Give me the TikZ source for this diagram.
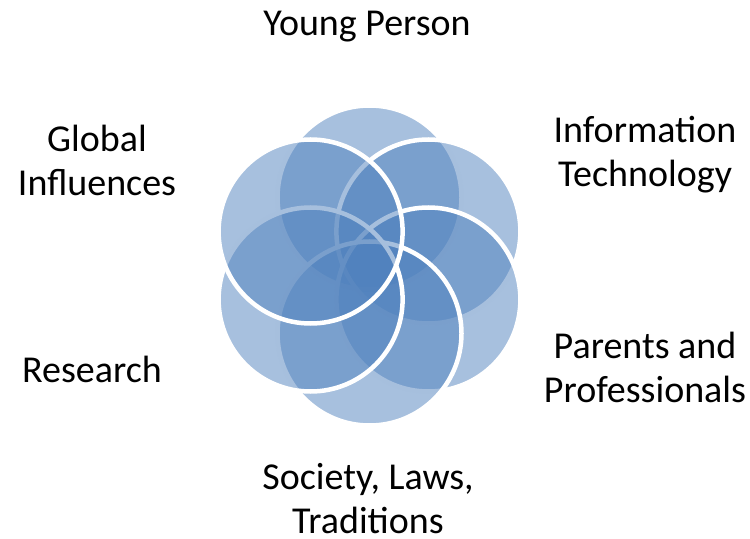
\documentclass[tikz,border=0pt]{standalone}
\usepackage{fontspec}
\setmainfont{Carlito}
\definecolor{petalblue}{HTML}{4F81BD}
\begin{document}
\begin{tikzpicture}[x=1bp, y=-1bp,
  petal/.style={circle, minimum size=184bp, inner sep=0pt, outer sep=0pt,
    fill=petalblue, fill opacity=0.5, draw=white, draw opacity=1, line width=4.5bp},
  caption/.style={font=\fontsize{38bp}{44bp}\selectfont, align=center,
    inner sep=0pt, anchor=base, text=black}]
\useasboundingbox (0,0) rectangle (750,539);
% six overlapping petals, drawn clockwise from the top; each later one
% veils the white rims of the earlier ones
\node[petal] (young)    at (369.5,197.5) {};
\node[petal] (tech)     at (428.4,231.5) {};
\node[petal] (parents)  at (428.4,299.5) {};
\node[petal] (society)  at (369.5,333.5) {};
\node[petal] (research) at (310.6,299.5) {};
\node[petal] (global)   at (310.6,231.5) {};
% captions (the base anchor of a two-line caption sits on its last line)
\node[caption] (lyoung)    at (367,36)  {Young Person};
\node[caption] (ltech)     at (645,187) {Information\\Technology};
\node[caption] (lparents)  at (645,402) {Parents and\\Professionals};
\node[caption, text depth=0pt] (lsociety) at (368,533) {Society, Laws,\\Traditions};
\node[caption] (lresearch) at (92,382)  {Research};
\node[caption] (lglobal)   at (97,196)  {Global\\Influences};
\end{tikzpicture}
\end{document}
